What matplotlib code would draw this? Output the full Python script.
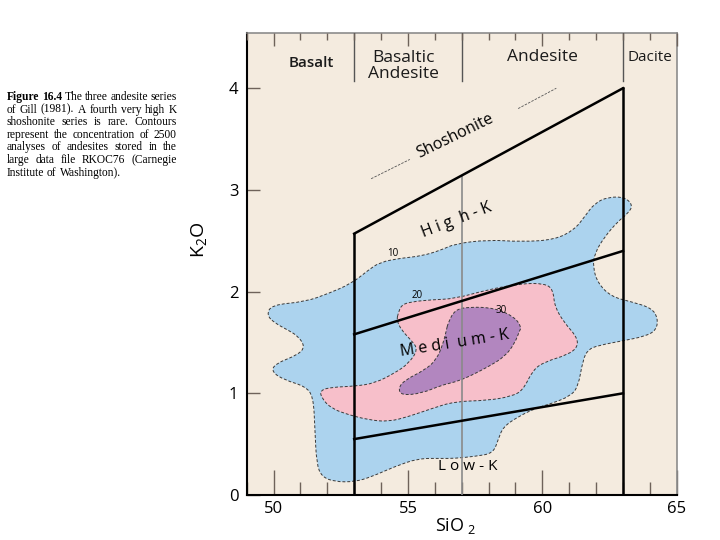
import matplotlib
matplotlib.use('Agg')
import matplotlib.pyplot as plt
from matplotlib.patches import PathPatch
from matplotlib.path import Path

plt.rcParams['mathtext.default'] = 'regular'
SANS = 'Open Sans'

# contour outlines (SiO2, K2O)
blue_x = [49.74, 49.93, 51.17, 52.03, 52.90, 53.52, 53.96, 54.76, 55.51, 56.25, 56.74, 57.98,
          59.22, 60.46, 61.20, 61.58, 61.95, 62.44, 63.06, 63.37, 63.19, 62.81, 62.32, 61.95,
          61.88, 62.07, 62.57, 63.31, 64.06, 64.30, 64.24, 63.81, 63.06, 62.07, 61.70, 61.51,
          61.33, 61.02, 60.34, 59.72, 59.10, 58.54, 58.35, 58.17, 57.49, 56.74, 56.25, 55.38,
          54.51, 53.65, 53.03, 52.28, 51.79, 51.60, 51.54, 51.48, 51.17, 50.42, 49.93, 50.05,
          50.92, 51.17, 50.92, 50.55, 50.05]
blue_y = [1.77, 1.87, 1.90, 1.98, 2.08, 2.21, 2.29, 2.33, 2.35, 2.41, 2.47, 2.51,
          2.49, 2.51, 2.61, 2.74, 2.87, 2.93, 2.93, 2.85, 2.77, 2.69, 2.54, 2.38,
          2.24, 2.08, 1.95, 1.90, 1.84, 1.74, 1.62, 1.56, 1.52, 1.47, 1.43, 1.33,
          1.06, 0.97, 0.90, 0.85, 0.77, 0.67, 0.54, 0.41, 0.38, 0.36, 0.36, 0.36,
          0.28, 0.18, 0.13, 0.13, 0.18, 0.31, 0.64, 0.97, 1.07, 1.13, 1.21, 1.29,
          1.38, 1.46, 1.56, 1.62, 1.69]

pink_x = [54.64, 54.76, 55.13, 55.88, 56.74, 57.98, 59.22, 60.09, 60.40, 60.46, 60.83, 61.27,
          61.33, 60.96, 60.09, 59.65, 59.28, 58.85, 57.98, 56.74, 55.88, 55.01, 54.26, 53.52,
          52.78, 52.16, 51.79, 51.73, 52.16, 53.03, 53.77, 54.51, 55.01, 55.38, 55.13, 54.76,
          54.58]
pink_y = [1.79, 1.87, 1.90, 1.92, 1.93, 2.02, 2.08, 2.08, 2.02, 1.85, 1.69, 1.56,
          1.46, 1.38, 1.31, 1.23, 1.03, 0.97, 0.93, 0.92, 0.85, 0.77, 0.72, 0.74,
          0.79, 0.85, 0.95, 1.03, 1.06, 1.07, 1.10, 1.20, 1.29, 1.43, 1.52, 1.62,
          1.72]

purple_x = [56.49, 56.74, 57.24, 58.23, 58.97, 59.22, 59.16, 58.97, 58.60, 57.98, 57.24, 56.74,
            56.25, 55.51, 54.76, 54.64, 54.88, 55.63, 56.06, 56.31, 56.43]
purple_y = [1.69, 1.82, 1.85, 1.84, 1.75, 1.65, 1.62, 1.49, 1.36, 1.26, 1.16, 1.11,
            1.08, 1.00, 0.98, 1.05, 1.13, 1.23, 1.33, 1.49, 1.62]

# series boundaries (Gill 1981)
bound_x = [53, 63]
shosh_y = [2.57, 4.00]
highk_y = [1.58, 2.40]
lowk_y = [0.55, 1.00]
shosh_dash1_x, shosh_dash1_y = [53.63, 55.07], [3.11, 3.30]
shosh_dash2_x, shosh_dash2_y = [59.10, 60.52], [3.80, 4.00]

rock_divides = [53, 57, 63]
rock_names = ['Basalt', 'Basaltic\nAndesite', 'Andesite', 'Dacite']
rock_name_x = [51.4, 54.85, 60.0, 64.0]
rock_name_y = [4.25, 4.22, 4.31, 4.30]
rock_name_size = [11, 12.5, 12.5, 11]
rock_name_weight = ['semibold', 'normal', 'normal', 'normal']

caption = ["The three andesite series",
           "of Gill (1981). A fourth very high K",
           "shoshonite series is rare. Contours",
           "represent the concentration of 2500",
           "analyses of andesites stored in the",
           "large data file RKOC76 (Carnegie",
           "Institute of Washington)."]


def smooth_path(xs, ys):
    # closed quadratic bezier through edge midpoints, vertices act as control points
    pts = list(zip(xs, ys))
    n = len(pts)
    mid = [((pts[i][0] + pts[(i + 1) % n][0]) / 2, (pts[i][1] + pts[(i + 1) % n][1]) / 2)
           for i in range(n)]
    verts = [mid[-1]]
    codes = [Path.MOVETO]
    for i in range(n):
        verts += [pts[i], mid[i]]
        codes += [Path.CURVE3, Path.CURVE3]
    verts.append(mid[-1])
    codes.append(Path.CLOSEPOLY)
    return Path(verts, codes)


fig = plt.figure(figsize=(7.2, 5.4), dpi=100)
ax = fig.add_axes([0.3426, 0.0833, 0.5973, 0.855])
ax.set_facecolor('#f4ebdf')
ax.set_xlim(49, 65)
ax.set_ylim(0, 4.54)

for xs, ys, col, z in [(blue_x, blue_y, '#acd3ee', 1), (pink_x, pink_y, '#f7bfca', 2),
                       (purple_x, purple_y, '#b286bf', 3)]:
    ax.add_patch(PathPatch(smooth_path(xs, ys), facecolor=col, edgecolor='#3a3a3a',
                           lw=0.7, ls=(0, (3, 2)), zorder=z))

# vertical guide at 57
ax.plot([57, 57], [0, 3.14], color='#8a8a8a', lw=1.2, zorder=4)
for d in rock_divides:
    ax.plot([d, d], [4.07, 4.54], color='#555555', lw=1.0, zorder=4)

# black field boundaries
ax.plot([53, 53], [0, shosh_y[0]], color='black', lw=1.8, zorder=5)
ax.plot([63, 63], [0, shosh_y[1]], color='black', lw=1.8, zorder=5)
ax.plot(bound_x, shosh_y, color='black', lw=1.8, zorder=5)
ax.plot(bound_x, highk_y, color='black', lw=1.8, zorder=5)
ax.plot(bound_x, lowk_y, color='black', lw=1.8, zorder=5)
ax.plot(shosh_dash1_x, shosh_dash1_y, color='#555555', lw=0.6, ls=(0, (3, 1.5)), zorder=5)
ax.plot(shosh_dash2_x, shosh_dash2_y, color='#555555', lw=0.6, ls=(0, (3, 1.5)), zorder=5)

for name, x, y, fs, wt in zip(rock_names, rock_name_x, rock_name_y, rock_name_size,
                              rock_name_weight):
    ax.text(x, y, name, ha='center', va='center', fontsize=fs, weight=wt, family=SANS,
            linespacing=1.05, color='#1a1a1a', zorder=6)

ax.text(56.74, 3.53, 'Shoshonite', rotation=26, ha='center', va='center', fontsize=11.5,
        family=SANS, zorder=6)
ax.text(56.8, 2.70, 'H i g  h - K', rotation=21, ha='center', va='center', fontsize=11.5,
        family=SANS, zorder=6)
ax.text(56.75, 1.49, 'M e d i  u m - K', rotation=9, ha='center', va='center', fontsize=11.5,
        family=SANS, zorder=6)
ax.text(57.23, 0.28, 'L o w - K', ha='center', va='center', fontsize=11, family=SANS, zorder=6)
ax.text(54.45, 2.37, '10', ha='center', va='center', fontsize=7, family=SANS, zorder=6)
ax.text(55.34, 1.96, '20', ha='center', va='center', fontsize=7, family=SANS, zorder=6)
ax.text(58.46, 1.81, '30', ha='center', va='center', fontsize=7, family=SANS, zorder=6)

# axes frame & ticks
for s in ['left', 'bottom']:
    ax.spines[s].set_color('black')
    ax.spines[s].set_linewidth(1.5)
for s in ['top', 'right']:
    ax.spines[s].set_color('#8c8c8c')
    ax.spines[s].set_linewidth(1.2)

ax.set_xticks([50, 55, 60, 65])
ax.set_xticks(range(49, 66), minor=True)
ax.set_yticks([0, 1, 2, 3, 4])
ax.set_yticks([], minor=True)
ax.tick_params(axis='x', which='major', direction='in', length=18, width=1, color='#6e625a',
               labelsize=12, pad=4)
ax.tick_params(axis='x', which='minor', direction='in', length=9.4, width=1, color='#6e625a')
ax.tick_params(axis='y', which='major', direction='in', length=9.4, width=1, color='#6e625a',
               labelsize=12, pad=6)
for lab in ax.get_xticklabels() + ax.get_yticklabels():
    lab.set_family(SANS)

# shorter ticks along the top edge
top = ax.twiny()
top.set_xlim(ax.get_xlim())
top.set_xticks([50, 55, 60, 65])
top.set_xticks(range(49, 66), minor=True)
top.tick_params(axis='x', which='major', direction='in', length=9.4, width=1, color='#6e625a',
                labeltop=False)
top.tick_params(axis='x', which='minor', direction='in', length=5, width=1, color='#6e625a')
top.set_frame_on(False)

ax.text(-0.11, 0.552, 'K$_2$O', rotation=90, transform=ax.transAxes, ha='center', va='center',
        fontsize=14, family=SANS)
ax.text(0.485, -0.068, 'SiO$_{\\ 2}$', transform=ax.transAxes, ha='center', va='center',
        fontsize=13, family=SANS)

# justified caption on the left
fig.canvas.draw()
r = fig.canvas.get_renderer()
left, right = 6.5, 177.0
fsz = 8.3
for i, line in enumerate(caption):
    py = 100 + 12.6 * i
    yf = 1 - py / 540
    words = line.split(' ')
    if i == 0:
        words = ['Figure', '16.4'] + words
    arts = []
    for j, w in enumerate(words):
        bold = (i == 0 and j < 2)
        t = fig.text(0, yf, w, fontsize=fsz, family='Liberation Serif',
                     weight='bold' if bold else 'normal', va='baseline', ha='left')
        arts.append(t)
    widths = [a.get_window_extent(r).width for a in arts]
    if i < len(caption) - 1:
        gap = max((right - left - sum(widths)) / (len(arts) - 1), 1.5)
    else:
        gap = 3.0
    x = left
    for a, w in zip(arts, widths):
        a.set_x(x / 720)
        x += w + gap

fig.savefig('out.png', dpi=100)
